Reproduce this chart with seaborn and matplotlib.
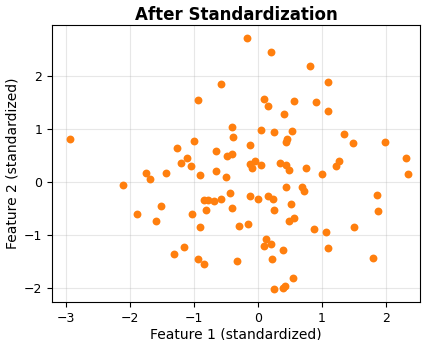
import matplotlib
matplotlib.use("Agg")
import matplotlib.pyplot as plt
import seaborn as sns
import pandas as pd

feature1 = [-2.94, -0.94, -0.57, -0.41, -0.39, -1.00, -1.26, -0.66, -1.11, -0.48,
            -0.41, -1.21, -1.05, -1.75, -1.68, -1.43, -0.90, -0.66, -0.50, -2.11,
            -0.85, -0.78, -0.69, -0.57, -0.43, -0.41, -0.81, -1.52, -1.89, -1.60,
            -1.03, -0.91, -0.29, -1.16, -1.32, -0.93, -0.85, -0.33, -0.17, 0.21,
            0.82, 1.10, 0.09, 0.16, 0.56, 0.90, 0.40, 1.09, 0.05, 0.25,
            0.53, 0.46, 0.44, -0.13, 1.35, 1.48, 1.99, 2.32, -0.13, -0.05,
            -0.09, 0.05, 0.34, 0.44, 0.49, 0.75, 1.00, 1.22, 1.27, 2.35,
            -0.13, 0.00, 0.15, 0.24, 0.25, 0.44, 0.69, 0.72, 0.52, 0.48,
            0.57, -0.15, 0.875, 1.07, 1.50, 1.86, 1.875, 0.12, 0.10, 0.21,
            0.39, 1.10, 0.22, 1.79, 0.54, 0.39, 0.43, 0.245]
feature2 = [0.80, 1.54, 1.84, 1.04, 0.84, 0.77, 0.63, 0.59, 0.45, 0.49,
            0.52, 0.35, 0.29, 0.16, 0.05, 0.17, 0.13, 0.21, 0.09, -0.06,
            -0.35, -0.35, -0.36, -0.33, -0.21, -0.50, -0.53, -0.45, -0.60, -0.75,
            -0.60, -0.86, -0.84, -1.23, -1.36, -1.45, -1.56, -1.50, 2.72, 2.46,
            2.18, 1.88, 1.56, 1.44, 1.52, 1.51, 1.29, 1.34, 0.98, 0.95,
            0.96, 0.81, 0.76, 0.69, 0.91, 0.74, 0.75, 0.45, 0.33, 0.39,
            0.27, 0.32, 0.36, 0.32, 0.23, 0.27, 0.15, 0.30, 0.39, 0.15,
            -0.26, -0.33, -0.26, -0.33, -0.53, -0.10, -0.09, -0.17, -0.42, -0.74,
            -0.68, -0.79, -0.89, -0.94, -0.86, -0.25, -0.55, -1.09, -1.21, -1.18,
            -1.28, -1.26, -1.46, -1.44, -1.81, -2.00, -1.96, -2.03]

title = "After Standardization"
xlabel = "Feature 1 (standardized)"
ylabel = "Feature 2 (standardized)"
xticks = [-3, -2, -1, 0, 1, 2]
yticks = [-2, -1, 0, 1, 2]

df = pd.DataFrame({"f1": feature1, "f2": feature2})

fig, ax = plt.subplots(figsize=(4.22, 3.40), dpi=100)
fig.subplots_adjust(left=0.123, right=0.995, top=0.926, bottom=0.112)
sns.scatterplot(data=df, x="f1", y="f2", ax=ax, color="#ff7f0e", s=32,
                linewidth=0, alpha=1.0)
ax.set_xlim(-3.22, 2.53)
ax.set_ylim(-2.27, 2.96)
ax.set_xticks(xticks)
ax.set_yticks(yticks)
ax.grid(True, alpha=0.3)
ax.set_axisbelow(True)
ax.set_title(title, fontsize=12, fontweight="bold", pad=4)
ax.set_xlabel(xlabel, fontsize=10, labelpad=2)
ax.set_ylabel(ylabel, fontsize=10, labelpad=3)
ax.tick_params(labelsize=9)
fig.savefig("out.png", dpi=100)
